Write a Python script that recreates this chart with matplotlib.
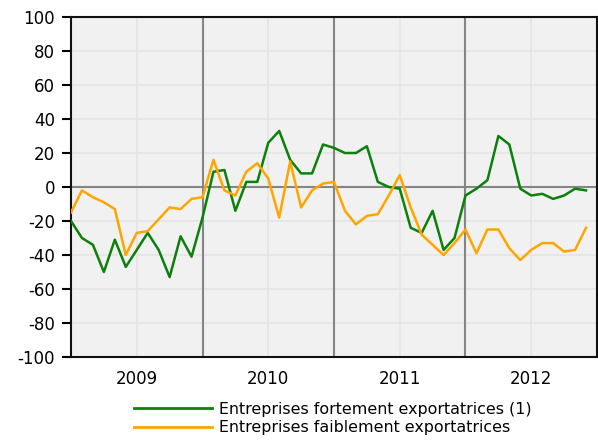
import matplotlib
matplotlib.use("Agg")
import matplotlib.pyplot as plt
from matplotlib.lines import Line2D

plt.rcParams['font.family'] = ['DejaVu Sans']
plt.rcParams['axes.unicode_minus'] = False

years = ["2009", "2010", "2011", "2012"]
fort = [-20, -30, -34, -50, -31, -47, -37, -27, -37, -53, -29, -41,
        -18, 9, 10, -14, 3, 3, 26, 33, 16, 8, 8, 25,
        23, 20, 20, 24, 3, 0, -1, -24, -27, -14, -37, -30,
        -5, -1, 4, 30, 25, -1, -5, -4, -7, -5, -1, -2]
faible = [-15, -2, -6, -9, -13, -40, -27, -26, -19, -12, -13, -7,
          -6, 16, -2, -5, 9, 14, 5, -18, 15, -12, -2, 2,
          3, -14, -22, -17, -16, -5, 7, -12, -28, -34, -40, -33,
          -25, -39, -25, -25, -36, -43, -37, -33, -33, -38, -37, -24]
labels = ["Entreprises fortement exportatrices (1)",
          "Entreprises faiblement exportatrices"]

fig = plt.figure(figsize=(5.98, 4.42), dpi=100)
ax = fig.add_axes([71/598, 1-357/442, 526/598, 340/442])
ax.set_facecolor('#f1f1f1')

x = list(range(len(fort)))
ax.set_xlim(0, 48)
ax.set_ylim(-100, 100)

# grid
for yv in range(-80, 100, 20):
    ax.axhline(yv, color='#e4e4e4', lw=1.2, zorder=0)
for k in range(len(years)):
    ax.axvline(12*k + 6, color='#e4e4e4', lw=1.2, zorder=0)
for k in range(1, len(years)):
    ax.axvline(12*k, color='#858585', lw=1.5, zorder=1)
ax.axhline(0, color='#858585', lw=1.5, zorder=1)

ax.plot(x, fort, color='#0b800b', lw=1.8, zorder=3)
ax.plot(x, faible, color='#ffa500', lw=1.8, zorder=3)

ax.set_yticks(range(-100, 101, 20))
ax.set_xticks([12*k + 6 for k in range(len(years))])
ax.set_xticklabels(years)
ax.tick_params(axis='x', length=0, pad=9, labelsize=12)
ax.tick_params(axis='y', length=6.5, width=1.5, pad=5, labelsize=12)
for s in ax.spines.values():
    s.set_linewidth(1.5)
    s.set_color('#111111')

handles = [Line2D([], [], color='#0b800b', lw=2), Line2D([], [], color='#ffa500', lw=2)]
fig.legend(handles, labels, loc='upper left', bbox_to_anchor=(134/598, 1-402/442),
           frameon=False, fontsize=11.4, handlelength=4.9, handletextpad=0.44,
           labelspacing=0.2, borderpad=0, borderaxespad=0)

fig.savefig("out.png", dpi=100)
